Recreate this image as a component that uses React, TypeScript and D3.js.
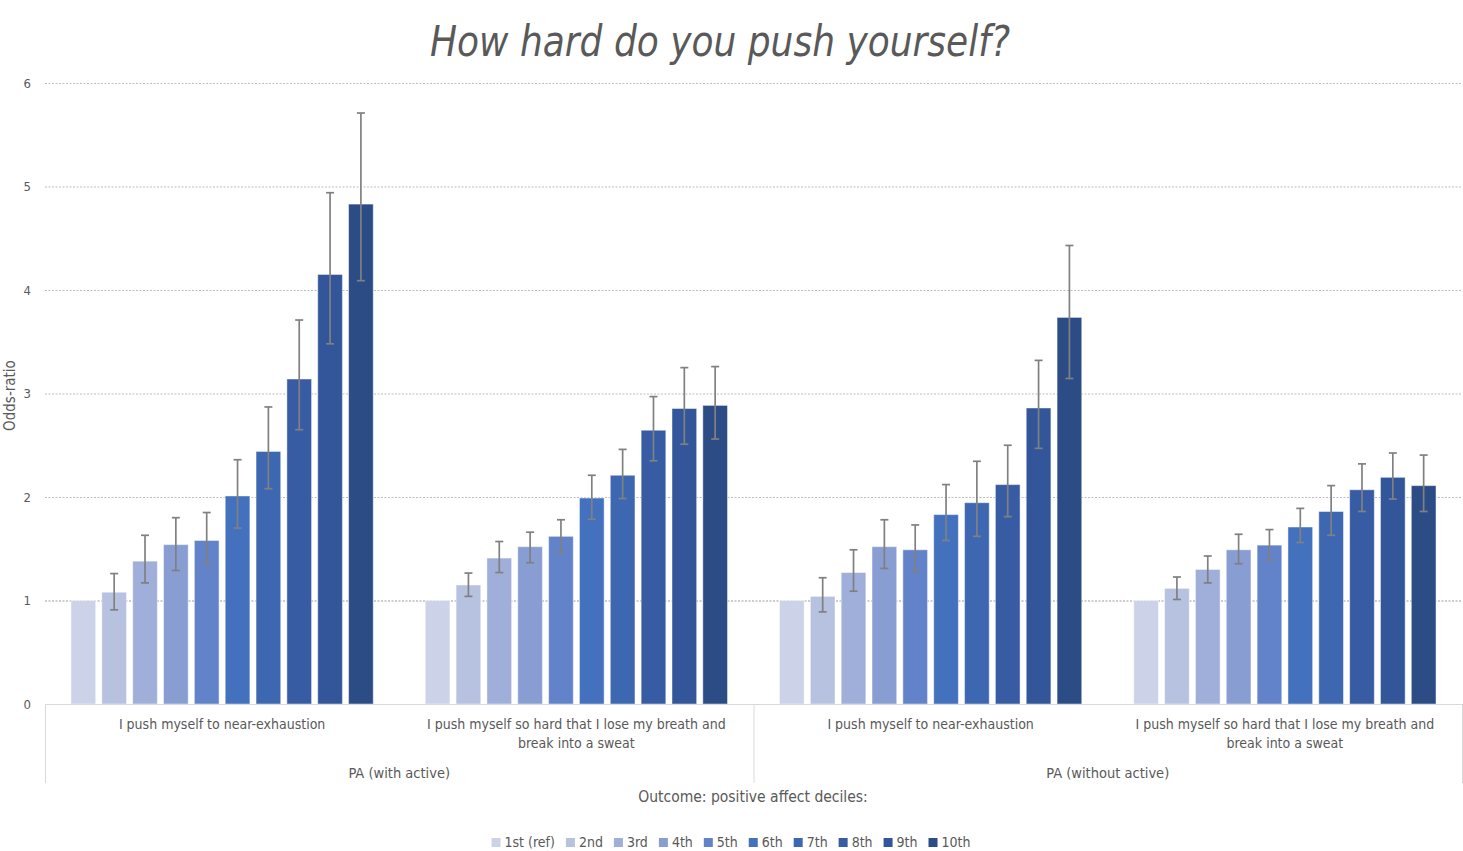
import React, { useEffect, useRef } from "react";
import * as d3 from "d3";

const deciles = ["1st (ref)", "2nd", "3rd", "4th", "5th", "6th", "7th", "8th", "9th", "10th"];
const categories = [
  "I push myself to near-exhaustion",
  "I push myself so hard that I lose my breath and break into a sweat",
  "I push myself to near-exhaustion",
  "I push myself so hard that I lose my breath and break into a sweat",
];
const groups = ["PA (with active)", "PA (without active)"];
const yTicks = [0, 1, 2, 3, 4, 5, 6];

const orWithExhaustion = [1.0, 1.08, 1.38, 1.54, 1.58, 2.01, 2.44, 3.14, 4.15, 4.83];
const loWithExhaustion = [null, 0.91, 1.17, 1.29, 1.35, 1.7, 2.08, 2.65, 3.48, 4.09];
const hiWithExhaustion = [null, 1.26, 1.63, 1.8, 1.85, 2.36, 2.87, 3.71, 4.94, 5.71];

const orWithSweat = [1.0, 1.15, 1.41, 1.52, 1.62, 1.99, 2.21, 2.645, 2.855, 2.885];
const loWithSweat = [null, 1.04, 1.27, 1.365, 1.46, 1.785, 1.985, 2.35, 2.51, 2.56];
const hiWithSweat = [null, 1.265, 1.57, 1.66, 1.78, 2.21, 2.46, 2.97, 3.25, 3.26];

const orWithoutExhaustion = [1.0, 1.04, 1.27, 1.52, 1.49, 1.83, 1.945, 2.12, 2.86, 3.735];
const loWithoutExhaustion = [null, 0.89, 1.09, 1.31, 1.28, 1.58, 1.62, 1.81, 2.47, 3.145];
const hiWithoutExhaustion = [null, 1.22, 1.49, 1.78, 1.73, 2.12, 2.345, 2.5, 3.32, 4.43];

const orWithoutSweat = [1.0, 1.117, 1.3, 1.49, 1.535, 1.71, 1.86, 2.07, 2.19, 2.11];
const loWithoutSweat = [null, 1.01, 1.17, 1.355, 1.39, 1.56, 1.63, 1.86, 1.98, 1.86];
const hiWithoutSweat = [null, 1.227, 1.43, 1.64, 1.685, 1.89, 2.11, 2.32, 2.425, 2.405];

const colors = ["#CCD2E7", "#B7C2E1", "#A0AFD9", "#889DD2", "#6283C9", "#4371BE", "#3E67B1", "#385CA4", "#325699", "#2C4C86"];

const FONT = "'Liberation Sans Narrow', 'DejaVu Sans Condensed', 'Open Sans', sans-serif";

export default function App() {
  const ref = useRef<SVGSVGElement>(null);

  useEffect(() => {
    const svg = d3.select(ref.current);
    svg.selectAll("*").remove();

    const left = 45, right = 1462, top = 83, bottom = 704;

    const series = [
      { or: orWithExhaustion, lo: loWithExhaustion, hi: hiWithExhaustion },
      { or: orWithSweat, lo: loWithSweat, hi: hiWithSweat },
      { or: orWithoutExhaustion, lo: loWithoutExhaustion, hi: hiWithoutExhaustion },
      { or: orWithoutSweat, lo: loWithoutSweat, hi: hiWithoutSweat },
    ];

    const y = d3.scaleLinear().domain([0, 6]).range([bottom, top]);
    const xOuter = d3.scaleBand<number>().domain(d3.range(categories.length)).range([left, right]).padding(0);
    const bandW = xOuter.bandwidth();
    const xInner = d3.scaleBand<string>().domain(deciles).range([26, bandW - 26]).paddingInner(0.2).paddingOuter(0);

    // title
    svg.append("text")
      .attr("x", 720).attr("y", 56)
      .attr("text-anchor", "middle")
      .attr("font-family", FONT)
      .attr("font-style", "italic")
      .attr("font-size", 42)
      .attr("fill", "#595959")
      .attr("textLength", 580)
      .attr("lengthAdjust", "spacingAndGlyphs")
      .text("How hard do you push yourself?");

    // gridlines
    svg.append("g").selectAll("line").data(yTicks.filter(t => t > 0)).join("line")
      .attr("x1", left).attr("x2", right)
      .attr("y1", d => y(d) + 0.5).attr("y2", d => y(d) + 0.5)
      .attr("stroke", d => (d === 1 ? "#9a9a9a" : "#bdbdbd"))
      .attr("stroke-width", 1)
      .attr("stroke-dasharray", "2 1.5");

    // y tick labels
    svg.append("g").selectAll("text").data(yTicks).join("text")
      .attr("x", 31).attr("y", d => y(d) + 4.5)
      .attr("text-anchor", "end")
      .attr("font-family", FONT)
      .attr("font-size", 13)
      .attr("fill", "#595959")
      .text(d => d3.format("d")(d));

    // y axis label
    svg.append("text")
      .attr("transform", `translate(15, ${(top + bottom) / 2 + 2}) rotate(-90)`)
      .attr("text-anchor", "middle")
      .attr("font-family", FONT)
      .attr("font-size", 15)
      .attr("fill", "#595959")
      .text("Odds-ratio");

    // bars
    const gBars = svg.append("g");
    series.forEach((s, ci) => {
      const g = gBars.append("g").attr("transform", `translate(${xOuter(ci)},0)`);
      g.selectAll("rect").data(s.or).join("rect")
        .attr("x", (_d, i) => xInner(deciles[i])!)
        .attr("width", xInner.bandwidth())
        .attr("y", d => y(d))
        .attr("height", d => bottom - y(d))
        .attr("fill", (_d, i) => colors[i])
        .attr("stroke", "rgba(255,255,255,0.45)")
        .attr("stroke-width", 1);
      const eb = s.or.map((_v, i) => ({ i, lo: s.lo[i], hi: s.hi[i] })).filter(e => e.lo != null);
      const cx = (i: number) => xInner(deciles[i])! + xInner.bandwidth() / 2;
      const ge = g.append("g").attr("stroke", "#808080").attr("stroke-width", 1.7);
      ge.selectAll("line.v").data(eb).join("line").attr("class", "v")
        .attr("x1", e => cx(e.i)).attr("x2", e => cx(e.i))
        .attr("y1", e => y(e.lo as number)).attr("y2", e => y(e.hi as number));
      ge.selectAll("line.t").data(eb).join("line").attr("class", "t")
        .attr("x1", e => cx(e.i) - 4).attr("x2", e => cx(e.i) + 4)
        .attr("y1", e => y(e.hi as number)).attr("y2", e => y(e.hi as number));
      ge.selectAll("line.b").data(eb).join("line").attr("class", "b")
        .attr("x1", e => cx(e.i) - 4).attr("x2", e => cx(e.i) + 4)
        .attr("y1", e => y(e.lo as number)).attr("y2", e => y(e.lo as number));
    });

    // axis frame
    const frame = svg.append("g").attr("stroke", "#d9d9d9").attr("stroke-width", 1).attr("fill", "none");
    frame.append("line").attr("x1", left).attr("x2", right).attr("y1", bottom + 0.5).attr("y2", bottom + 0.5);
    const groupEdges = [left, xOuter(2)!, right];
    frame.selectAll("line.gv").data(groupEdges).join("line").attr("class", "gv")
      .attr("x1", d => d + 0.5).attr("x2", d => d + 0.5)
      .attr("y1", bottom).attr("y2", 783);

    // category labels with wrapping
    const maxW = 315;
    categories.forEach((label, ci) => {
      const cxp = xOuter(ci)! + bandW / 2;
      const t = svg.append("text")
        .attr("x", cxp).attr("y", 729)
        .attr("text-anchor", "middle")
        .attr("font-family", FONT)
        .attr("font-size", 14)
        .attr("fill", "#595959");
      const words = label.split(" ");
      let line: string[] = [];
      let tspan = t.append("tspan").attr("x", cxp).attr("dy", 0);
      for (const w of words) {
        line.push(w);
        tspan.text(line.join(" "));
        const node = tspan.node() as SVGTextContentElement;
        if (node.getComputedTextLength() > maxW && line.length > 1) {
          line.pop();
          tspan.text(line.join(" "));
          line = [w];
          tspan = t.append("tspan").attr("x", cxp).attr("dy", 19).text(w);
        }
      }
    });

    // group labels
    groups.forEach((gl, gi) => {
      const x0 = groupEdges[gi], x1 = groupEdges[gi + 1];
      svg.append("text")
        .attr("x", (x0 + x1) / 2).attr("y", 778)
        .attr("text-anchor", "middle")
        .attr("font-family", FONT)
        .attr("font-size", 14.5)
        .attr("fill", "#595959")
        .text(gl);
    });

    // axis title
    svg.append("text")
      .attr("x", 753).attr("y", 802)
      .attr("text-anchor", "middle")
      .attr("font-family", FONT)
      .attr("font-size", 15.5)
      .attr("fill", "#595959")
      .text("Outcome: positive affect deciles:");

    // legend
    const leg = svg.append("g");
    const items = deciles.map((d, i) => {
      const g = leg.append("g");
      g.append("rect").attr("x", 0).attr("y", -9).attr("width", 9).attr("height", 9).attr("fill", colors[i]);
      const tx = g.append("text").attr("x", 13).attr("y", 0)
        .attr("font-family", FONT).attr("font-size", 14).attr("fill", "#595959").text(d);
      const w = 13 + (tx.node() as SVGTextContentElement).getComputedTextLength();
      return { g, w };
    });
    const gap = 11;
    const total = d3.sum(items, it => it.w) + gap * (items.length - 1);
    let cx = 731 - total / 2;
    items.forEach(it => {
      it.g.attr("transform", `translate(${cx},847)`);
      cx += it.w + gap;
    });
  }, []);

  return (
    <svg ref={ref} width={1463} height={851} style={{ position: "absolute", left: 0, top: 0, background: "#fff" }} />
  );
}
